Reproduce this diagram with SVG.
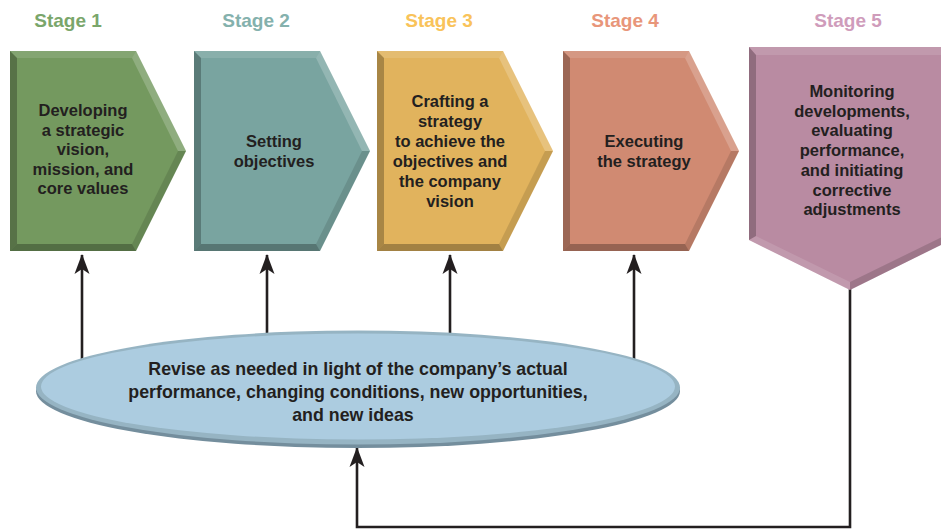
<svg xmlns="http://www.w3.org/2000/svg" xmlns:xlink="http://www.w3.org/1999/xlink" width="941" height="529" viewBox="0 0 941 529">
<style>
.lbl{font-family:"Liberation Sans",Arial,sans-serif;font-weight:bold;font-size:19px;text-anchor:middle}
.txt{font-family:"Liberation Sans",Arial,sans-serif;font-weight:bold;font-size:16.5px;fill:#231f20;text-anchor:middle}
.big{font-size:17.8px}
.conn{fill:none;stroke:#231f20;stroke-width:2.6}
</style>
<defs>
<marker id="ah" markerUnits="userSpaceOnUse" viewBox="-22 -9 24 18" refX="0" refY="0" markerWidth="24" markerHeight="18" orient="auto" overflow="visible">
<path d="M1,0 L-19,-7.5 L-14,0 L-19,7.5 Z" fill="#231f20"/>
</marker>
<g id="chev">
<polygon points="0,0 126,0 176,100 126,200 0,200"/>
<polygon points="0,0 126,0 122,7 7,7" fill="#fff" fill-opacity="0.12"/>
<polygon points="126,0 176,100 168,100 122,7" fill="#fff" fill-opacity="0.2"/>
<polygon points="176,100 126,200 122,193 168,100" fill="#000" fill-opacity="0.12"/>
<polygon points="126,200 0,200 7,193 122,193" fill="#000" fill-opacity="0.28"/>
<polygon points="0,200 0,0 7,7 7,193" fill="#000" fill-opacity="0.25"/>
</g>
</defs>
<rect width="941" height="529" fill="#fff"/>

<g id="labels">
<text class="lbl" x="68" y="27" fill="#7aa66b">Stage 1</text>
<text class="lbl" x="256" y="27" fill="#84b1ad">Stage 2</text>
<text class="lbl" x="439" y="27" fill="#f9c35a">Stage 3</text>
<text class="lbl" x="625" y="27" fill="#e8967a">Stage 4</text>
<text class="lbl" x="848" y="27" fill="#cf9cbb">Stage 5</text>
</g>

<g id="connectors">
<line class="conn" x1="82" y1="365" x2="82" y2="255" marker-end="url(#ah)"/>
<line class="conn" x1="267" y1="340" x2="267" y2="255" marker-end="url(#ah)"/>
<line class="conn" x1="450" y1="340" x2="450" y2="255" marker-end="url(#ah)"/>
<line class="conn" x1="634" y1="360" x2="634" y2="255" marker-end="url(#ah)"/>
<path class="conn" d="M850,285 V527 H357 V448" marker-end="url(#ah)"/>
</g>

<g id="stage1">
<use xlink:href="#chev" href="#chev" x="10" y="51" fill="#74995f"/>
<text class="txt" x="83" y="116">Developing</text>
<text class="txt" x="83" y="135.5">a strategic</text>
<text class="txt" x="83" y="155">vision,</text>
<text class="txt" x="83" y="174.5">mission, and</text>
<text class="txt" x="83" y="194">core values</text>
</g>

<g id="stage2">
<use xlink:href="#chev" href="#chev" x="194" y="51" fill="#79a4a0"/>
<text class="txt" x="274" y="147">Setting</text>
<text class="txt" x="274" y="167">objectives</text>
</g>

<g id="stage3">
<use xlink:href="#chev" href="#chev" x="377" y="51" fill="#e1b35d"/>
<text class="txt" x="450" y="107">Crafting a</text>
<text class="txt" x="450" y="127">strategy</text>
<text class="txt" x="450" y="147">to achieve the</text>
<text class="txt" x="450" y="167">objectives and</text>
<text class="txt" x="450" y="187">the company</text>
<text class="txt" x="450" y="207">vision</text>
</g>

<g id="stage4">
<use xlink:href="#chev" href="#chev" x="563" y="51" fill="#d08a72"/>
<text class="txt" x="644" y="147">Executing</text>
<text class="txt" x="644" y="167">the strategy</text>
</g>

<g id="stage5">
<polygon points="749,47 951,47 951,240 850,290 749,240" fill="#b98ba2"/>
<polygon points="749,47 951,47 944,55 756,55" fill="#fff" fill-opacity="0.12"/>
<polygon points="749,47 756,55 756,236 749,240" fill="#000" fill-opacity="0.22"/>
<polygon points="749,240 756,236 850,282 850,290" fill="#fff" fill-opacity="0.12"/>
<polygon points="850,290 850,282 944,236 951,240" fill="#000" fill-opacity="0.15"/>
<text class="txt" x="852" y="97">Monitoring</text>
<text class="txt" x="852" y="116.7">developments,</text>
<text class="txt" x="852" y="136.4">evaluating</text>
<text class="txt" x="852" y="156.1">performance,</text>
<text class="txt" x="852" y="175.8">and initiating</text>
<text class="txt" x="852" y="195.5">corrective</text>
<text class="txt" x="852" y="215.2">adjustments</text>
</g>

<g id="revise">
<ellipse cx="358" cy="391" rx="322" ry="57" fill="#748e9d"/>
<ellipse cx="358" cy="387.5" rx="322" ry="57" fill="#96b4c3"/>
<ellipse cx="358" cy="386.5" rx="317" ry="53" fill="#accce0"/>
<text class="txt big" x="358" y="375">Revise as needed in light of the company’s actual</text>
<text class="txt big" x="358" y="398">performance, changing conditions, new opportunities,</text>
<text class="txt big" x="353" y="421">and new ideas</text>
</g>
</svg>
